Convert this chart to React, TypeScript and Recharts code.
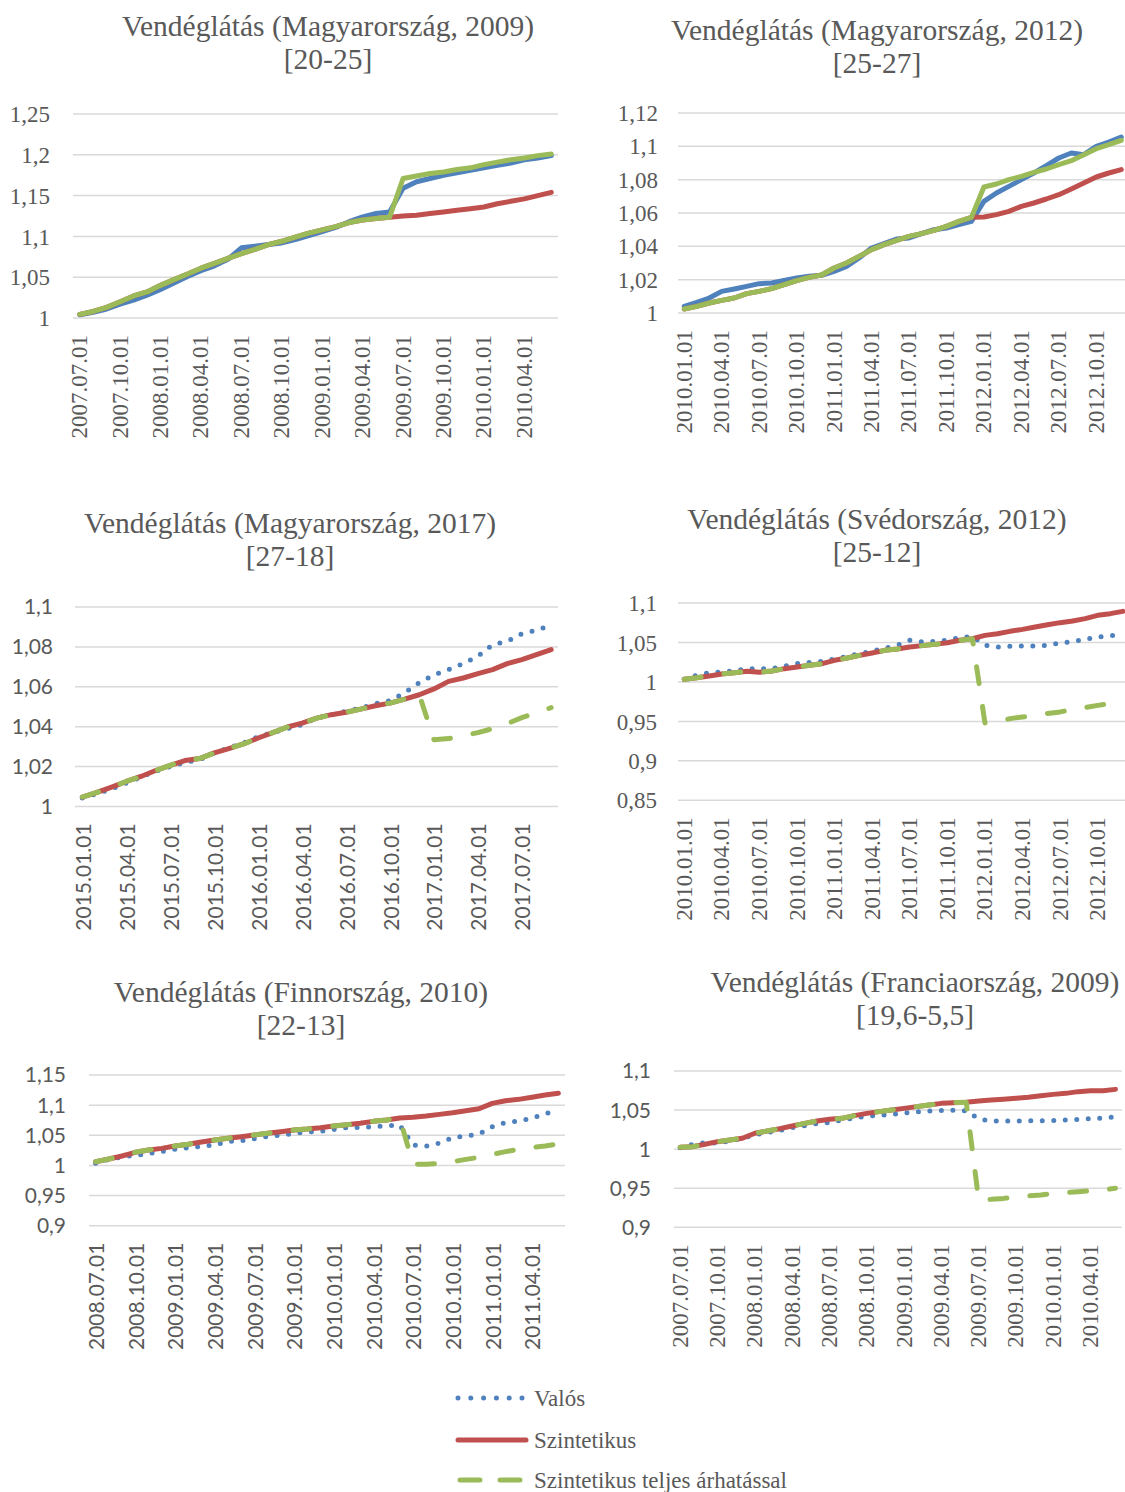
import { CartesianGrid, Line, LineChart, XAxis, YAxis } from "recharts";

const TEXT = "#595959";
const BLUE = "#4f81bd";
const RED = "#c0504d";
const GREEN = "#9bbb59";
const GRID = "#d9d9d9";
const SERIF = "'Liberation Serif', 'Times New Roman', serif";
const SANS = "Lato, Carlito, Calibri, sans-serif";

// months (tick labels)
const months0707 = [
  "2007.07.01", "2007.08.01", "2007.09.01", "2007.10.01", "2007.11.01", "2007.12.01",
  "2008.01.01", "2008.02.01", "2008.03.01", "2008.04.01", "2008.05.01", "2008.06.01",
  "2008.07.01", "2008.08.01", "2008.09.01", "2008.10.01", "2008.11.01", "2008.12.01",
  "2009.01.01", "2009.02.01", "2009.03.01", "2009.04.01", "2009.05.01", "2009.06.01",
  "2009.07.01", "2009.08.01", "2009.09.01", "2009.10.01", "2009.11.01", "2009.12.01",
  "2010.01.01", "2010.02.01", "2010.03.01", "2010.04.01", "2010.05.01", "2010.06.01",
];
const months1001 = [
  "2010.01.01", "2010.02.01", "2010.03.01", "2010.04.01", "2010.05.01", "2010.06.01",
  "2010.07.01", "2010.08.01", "2010.09.01", "2010.10.01", "2010.11.01", "2010.12.01",
  "2011.01.01", "2011.02.01", "2011.03.01", "2011.04.01", "2011.05.01", "2011.06.01",
  "2011.07.01", "2011.08.01", "2011.09.01", "2011.10.01", "2011.11.01", "2011.12.01",
  "2012.01.01", "2012.02.01", "2012.03.01", "2012.04.01", "2012.05.01", "2012.06.01",
  "2012.07.01", "2012.08.01", "2012.09.01", "2012.10.01", "2012.11.01", "2012.12.01",
];
const months1501 = [
  "2015.01.01", "2015.02.01", "2015.03.01", "2015.04.01", "2015.05.01", "2015.06.01",
  "2015.07.01", "2015.08.01", "2015.09.01", "2015.10.01", "2015.11.01", "2015.12.01",
  "2016.01.01", "2016.02.01", "2016.03.01", "2016.04.01", "2016.05.01", "2016.06.01",
  "2016.07.01", "2016.08.01", "2016.09.01", "2016.10.01", "2016.11.01", "2016.12.01",
  "2017.01.01", "2017.02.01", "2017.03.01", "2017.04.01", "2017.05.01", "2017.06.01",
  "2017.07.01", "2017.08.01", "2017.09.01",
];
const months0807 = [
  "2008.07.01", "2008.08.01", "2008.09.01", "2008.10.01", "2008.11.01", "2008.12.01",
  "2009.01.01", "2009.02.01", "2009.03.01", "2009.04.01", "2009.05.01", "2009.06.01",
  "2009.07.01", "2009.08.01", "2009.09.01", "2009.10.01", "2009.11.01", "2009.12.01",
  "2010.01.01", "2010.02.01", "2010.03.01", "2010.04.01", "2010.05.01", "2010.06.01",
  "2010.07.01", "2010.08.01", "2010.09.01", "2010.10.01", "2010.11.01", "2010.12.01",
  "2011.01.01", "2011.02.01", "2011.03.01", "2011.04.01", "2011.05.01", "2011.06.01",
];

// Magyarország 2009
const hu09Valos = [
  1.004, 1.007, 1.011, 1.017, 1.022, 1.028, 1.035, 1.043, 1.051, 1.058, 1.064, 1.072,
  1.086, 1.088, 1.09, 1.092, 1.096, 1.101, 1.106, 1.111, 1.118, 1.124, 1.128, 1.13,
  1.159, 1.167, 1.171, 1.175, 1.178, 1.181, 1.184, 1.187, 1.19, 1.194, 1.196, 1.199,
];
const hu09Szint = [
  1.0045, 1.008, 1.013, 1.02, 1.027, 1.032, 1.04, 1.047, 1.054, 1.061, 1.067, 1.073,
  1.079, 1.084, 1.09, 1.094, 1.099, 1.104, 1.108, 1.112, 1.117, 1.12, 1.122, 1.1235,
  1.125, 1.126, 1.128, 1.13, 1.132, 1.134, 1.136, 1.14, 1.143, 1.146, 1.15, 1.154,
];
const hu09Teljes = [
  1.0045, 1.008, 1.013, 1.02, 1.027, 1.032, 1.04, 1.047, 1.054, 1.061, 1.067, 1.073,
  1.079, 1.084, 1.09, 1.094, 1.099, 1.104, 1.108, 1.112, 1.117, 1.12, 1.122, 1.1235,
  1.171, 1.174, 1.177, 1.179, 1.182, 1.184, 1.188, 1.191, 1.194, 1.196, 1.199, 1.201,
];

// Magyarország 2012
const hu12Valos = [
  1.004, 1.0064, 1.009, 1.013, 1.0144, 1.016, 1.0176, 1.018, 1.0196, 1.021, 1.022, 1.0226,
  1.025, 1.028, 1.033, 1.039, 1.0416, 1.0444, 1.045, 1.0476, 1.05, 1.051, 1.053, 1.055,
  1.067, 1.072, 1.076, 1.08, 1.084, 1.0884, 1.093, 1.096, 1.095, 1.1, 1.1025, 1.1055,
];
const hu12Szint = [
  1.0024, 1.004, 1.006, 1.0076, 1.009, 1.0116, 1.013, 1.0146, 1.017, 1.0194, 1.0214, 1.0228,
  1.027, 1.03, 1.034, 1.038, 1.041, 1.0436, 1.046, 1.0476, 1.0496, 1.052, 1.055, 1.0574,
  1.0576, 1.059, 1.061, 1.064, 1.066, 1.0684, 1.071, 1.0744, 1.078, 1.0816, 1.084, 1.086,
];
const hu12Teljes = [
  1.0024, 1.004, 1.006, 1.0076, 1.009, 1.0116, 1.013, 1.0146, 1.017, 1.0194, 1.0214, 1.0228,
  1.027, 1.03, 1.034, 1.038, 1.041, 1.0436, 1.046, 1.0476, 1.0496, 1.052, 1.055, 1.0574,
  1.0756, 1.0774, 1.08, 1.082, 1.0844, 1.0864, 1.089, 1.0914, 1.095, 1.0986, 1.101, 1.1036,
];

// Magyarország 2017
const hu17Valos = [
  1.0042, 1.0064, 1.0087, 1.0117, 1.0147, 1.0176, 1.02, 1.022, 1.0234, 1.0268, 1.0293, 1.0318,
  1.035, 1.037, 1.039, 1.041, 1.0443, 1.046, 1.0477, 1.0493, 1.0515, 1.053, 1.057, 1.062,
  1.066, 1.0686, 1.0716, 1.0753, 1.081, 1.0828, 1.0866, 1.0883, 1.091,
];
const hu17Szint = [
  1.0047, 1.007, 1.0097, 1.0125, 1.015, 1.018, 1.0206, 1.023, 1.024, 1.0268, 1.029, 1.0313,
  1.0343, 1.037, 1.0398, 1.0418, 1.0443, 1.046, 1.0472, 1.0488, 1.0505, 1.0518, 1.0538, 1.056,
  1.0589, 1.0627, 1.0644, 1.0666, 1.0686, 1.0716, 1.0736, 1.0761, 1.0786,
];
const hu17Teljes = [
  1.0047, 1.007, 1.0097, 1.0125, 1.015, 1.018, 1.0206, 1.023, 1.024, 1.0268, 1.029, 1.0313,
  1.0343, 1.037, 1.0398, 1.0418, 1.0443, 1.046, 1.0472, 1.0488, 1.0505, 1.0518, 1.0538, 1.056,
  1.0334, 1.034, 1.0355, 1.037, 1.039, 1.0415, 1.0445, 1.047, 1.0495,
];

// Svédország 2012
const se12Valos = [
  1.0035, 1.0084, 1.0117, 1.0126, 1.0139, 1.0168, 1.0168, 1.0168, 1.02, 1.0231, 1.0248, 1.026,
  1.029, 1.0324, 1.0358, 1.0392, 1.0426, 1.0464, 1.0527, 1.0506, 1.0514, 1.0527, 1.0561, 1.0578,
  1.0464, 1.0443, 1.0451, 1.0455, 1.0455, 1.0464, 1.0493, 1.051, 1.054, 1.0569, 1.0586, 1.0595,
];
const se12Szint = [
  1.0033, 1.0054, 1.0075, 1.01, 1.0117, 1.0134, 1.0122, 1.0139, 1.0168, 1.0189, 1.021, 1.0231,
  1.0274, 1.0303, 1.0337, 1.0367, 1.04, 1.0417, 1.0443, 1.046, 1.0476, 1.0497, 1.0527, 1.0548,
  1.059, 1.0611, 1.0641, 1.0666, 1.0696, 1.0725, 1.0751, 1.0772, 1.0802, 1.0844, 1.0865, 1.0894,
];
const se12Teljes = [
  1.0033, 1.0054, 1.0075, 1.01, 1.0117, 1.0134, 1.0122, 1.0139, 1.0168, 1.0189, 1.021, 1.0231,
  1.0274, 1.0303, 1.0337, 1.0367, 1.04, 1.0417, 1.0443, 1.046, 1.0476, 1.0497, 1.0527, 1.0548,
  0.948, 0.9497, 0.9535, 0.9556, 0.9577, 0.96, 0.962, 0.965, 0.9674, 0.9703, 0.9725, 0.9746,
];

// Finnország 2010
const fi10Valos = [
  1.0034, 1.01, 1.0139, 1.0167, 1.0195, 1.0228, 1.0267, 1.0294, 1.0316, 1.0339, 1.04, 1.041,
  1.0444, 1.0482, 1.0499, 1.0532, 1.0554, 1.0565, 1.0593, 1.0626, 1.0632, 1.0643, 1.066, 1.067,
  1.034, 1.032, 1.037, 1.046, 1.049, 1.052, 1.064, 1.071, 1.074, 1.078, 1.086, 1.09,
];
const fi10Szint = [
  1.0062, 1.0106, 1.0156, 1.0217, 1.0256, 1.0283, 1.0322, 1.035, 1.0388, 1.0421, 1.0449, 1.0477,
  1.0504, 1.0532, 1.056, 1.0587, 1.0604, 1.0626, 1.0654, 1.0676, 1.0698, 1.0731, 1.0753, 1.0787,
  1.0798, 1.082, 1.0847, 1.0875, 1.0908, 1.0941, 1.103, 1.1074, 1.1096, 1.113, 1.1168, 1.1196,
];
const fi10Teljes = [
  1.0062, 1.0106, 1.0156, 1.0217, 1.0256, 1.0283, 1.0322, 1.035, 1.0388, 1.0421, 1.0449, 1.0477,
  1.0504, 1.0532, 1.056, 1.0587, 1.0604, 1.0626, 1.0654, 1.0676, 1.0698, 1.0731, 1.0753, 1.0787,
  1.0023, 1.0018, 1.0034, 1.0062, 1.01, 1.0134, 1.0184, 1.0228, 1.0267, 1.03, 1.0322, 1.0355,
];

// Franciaország 2009
const fr09Valos = [
  1.0019, 1.0062, 1.0083, 1.0079, 1.0104, 1.0139, 1.0185, 1.0211, 1.0241, 1.0275, 1.0301, 1.0326,
  1.0339, 1.0373, 1.0399, 1.042, 1.0433, 1.0446, 1.0463, 1.0475, 1.0488, 1.0493, 1.0497, 1.049,
  1.0386, 1.036, 1.036, 1.036, 1.0365, 1.0365, 1.0365, 1.0373, 1.0382, 1.039, 1.0399, 1.0412,
];
const fr09Szint = [
  1.0023, 1.0032, 1.0062, 1.0096, 1.0117, 1.0139, 1.0203, 1.0232, 1.0262, 1.0296, 1.033, 1.036,
  1.0382, 1.0394, 1.0429, 1.0458, 1.048, 1.0501, 1.0522, 1.0544, 1.0565, 1.0586, 1.0595, 1.0599,
  1.0616, 1.0629, 1.0638, 1.065, 1.0663, 1.0684, 1.0701, 1.0714, 1.0736, 1.0748, 1.0748, 1.0765,
];
const fr09Teljes = [
  1.0023, 1.0032, 1.0062, 1.0096, 1.0117, 1.0139, 1.0203, 1.0232, 1.0262, 1.0296, 1.033, 1.036,
  1.0382, 1.0394, 1.0429, 1.0458, 1.048, 1.0501, 1.0522, 1.0544, 1.0565, 1.0586, 1.0595, 1.0599,
  0.935, 0.9358, 0.937, 0.9392, 0.9401, 0.9414, 0.9435, 0.9443, 0.9456, 0.9469, 0.9478, 0.9499,
];

const ticksA = [1, 1.05, 1.1, 1.15, 1.2, 1.25];
const ticksB = [1, 1.02, 1.04, 1.06, 1.08, 1.1, 1.12];
const ticksC = [1, 1.02, 1.04, 1.06, 1.08, 1.1];
const ticksD = [0.85, 0.9, 0.95, 1, 1.05, 1.1];
const ticksE = [0.9, 0.95, 1, 1.05, 1.1, 1.15];
const ticksF = [0.9, 0.95, 1, 1.05, 1.1];

type PanelDef = {
  title: string;
  sub: string;
  tx: number;
  ty: number;
  x0: number;
  x1: number;
  y0: number;
  y1: number;
  ticks: number[];
  dates: string[];
  valos: number[];
  szint: number[];
  teljes: number[];
  styled: boolean;
  xFont: string;
  yFont: string;
  yGap: number;
};

const panels: PanelDef[] = [
  { title: "Vendéglátás (Magyarország, 2009)", sub: "[20-25]", tx: 328, ty: 27, x0: 73, x1: 558, y0: 114.3, y1: 318.3, ticks: ticksA, dates: months0707, valos: hu09Valos, szint: hu09Szint, teljes: hu09Teljes, styled: false, xFont: SERIF, yFont: SERIF, yGap: 23 },
  { title: "Vendéglátás (Magyarország, 2012)", sub: "[25-27]", tx: 877, ty: 31, x0: 677.5, x1: 1127, y0: 113.3, y1: 313.3, ticks: ticksB, dates: months1001, valos: hu12Valos, szint: hu12Szint, teljes: hu12Teljes, styled: false, xFont: SERIF, yFont: SERIF, yGap: 20 },
  { title: "Vendéglátás (Magyarország, 2017)", sub: "[27-18]", tx: 290, ty: 524, x0: 74.5, x1: 558, y0: 607.3, y1: 806.7, ticks: ticksC, dates: months1501, valos: hu17Valos, szint: hu17Szint, teljes: hu17Teljes, styled: true, xFont: SANS, yFont: SANS, yGap: 22 },
  { title: "Vendéglátás (Svédország, 2012)", sub: "[25-12]", tx: 877, ty: 520, x0: 677.5, x1: 1128.5, y0: 602.7, y1: 800, ticks: ticksD, dates: months1001, valos: se12Valos, szint: se12Szint, teljes: se12Teljes, styled: true, xFont: SERIF, yFont: SERIF, yGap: 21 },
  { title: "Vendéglátás (Finnország, 2010)", sub: "[22-13]", tx: 301, ty: 993, x0: 89, x1: 565, y0: 1075, y1: 1225.7, ticks: ticksE, dates: months0807, valos: fi10Valos, szint: fi10Szint, teljes: fi10Teljes, styled: true, xFont: SANS, yFont: SANS, yGap: 23 },
  { title: "Vendéglátás (Franciaország, 2009)", sub: "[19,6-5,5]", tx: 915, ty: 983, x0: 674.3, x1: 1122, y0: 1071, y1: 1227.3, ticks: ticksF, dates: months0707, valos: fr09Valos, szint: fr09Szint, teljes: fr09Teljes, styled: true, xFont: SERIF, yFont: SANS, yGap: 23 },
];

const fmt = (v: number) => String(v).replace(".", ",");

function makeXTick(font: string) {
  const size = font === SANS ? 21 : 23;
  return (props: any) => {
    const { x, y, payload } = props;
    return (
      <text
        x={x}
        y={y}
        transform={`rotate(-90 ${x} ${y})`}
        textAnchor="end"
        dominantBaseline="central"
        fill={TEXT}
        fontSize={size}
        fontFamily={font}
      >
        {payload.value}
      </text>
    );
  };
}

function Panel({ p }: { p: PanelDef }) {
  const yW = 80;
  const top = 24;
  const xH = 130;
  const w = p.x1 - p.x0;
  const h = p.y1 - p.y0;
  const half = w / p.dates.length / 2;
  const rows = p.dates.map((d, i) => ({ date: d, valos: p.valos[i], szint: p.szint[i], teljes: p.teljes[i] }));
  const titleStyle = {
    position: "absolute" as const,
    left: p.tx,
    transform: "translate(-50%, -50%)",
    whiteSpace: "nowrap" as const,
    fontFamily: SERIF,
    fontSize: 29.5,
    lineHeight: 1,
    color: TEXT,
  };
  return (
    <>
      <div style={{ ...titleStyle, top: p.ty }}>{p.title}</div>
      <div style={{ ...titleStyle, top: p.ty + 33 }}>{p.sub}</div>
      <div style={{ position: "absolute", left: p.x0 - yW, top: p.y0 - top }}>
        <LineChart width={yW + w} height={top + h + xH} data={rows} margin={{ top, right: 0, bottom: 0, left: 0 }}>
          <CartesianGrid vertical={false} stroke={GRID} strokeWidth={1.5} />
          <XAxis
            dataKey="date"
            interval={2}
            axisLine={false}
            tickLine={false}
            tickSize={0}
            tickMargin={17}
            height={xH}
            padding={{ left: half, right: half }}
            tick={makeXTick(p.xFont)}
          />
          <YAxis
            domain={[p.ticks[0], p.ticks[p.ticks.length - 1]]}
            ticks={p.ticks}
            interval={0}
            width={yW}
            axisLine={false}
            tickLine={false}
            tickSize={0}
            tickMargin={p.yGap}
            tickFormatter={fmt}
            tick={{ fill: TEXT, fontSize: p.yFont === SANS ? 21 : 23, fontFamily: p.yFont }}
          />
          <Line
            type="linear"
            dataKey="valos"
            stroke={BLUE}
            strokeWidth={5}
            strokeDasharray={p.styled ? "0 11.5" : undefined}
            strokeLinecap="round"
            strokeLinejoin="round"
            dot={false}
            activeDot={false}
            isAnimationActive={false}
          />
          <Line
            type="linear"
            dataKey="szint"
            stroke={RED}
            strokeWidth={5}
            strokeLinecap="round"
            strokeLinejoin="round"
            dot={false}
            activeDot={false}
            isAnimationActive={false}
          />
          <Line
            type="linear"
            dataKey="teljes"
            stroke={GREEN}
            strokeWidth={5}
            strokeDasharray={p.styled ? "17 23" : undefined}
            strokeLinecap="round"
            strokeLinejoin="round"
            dot={false}
            activeDot={false}
            isAnimationActive={false}
          />
        </LineChart>
      </div>
    </>
  );
}

const legendItems = [
  { label: "Valós", color: BLUE, dash: "0 12.8", width: 5, y: 1398, x1: 458, x2: 522 },
  { label: "Szintetikus", color: RED, dash: undefined, width: 5, y: 1440, x1: 458, x2: 526 },
  { label: "Szintetikus teljes árhatással", color: GREEN, dash: "20 20", width: 5, y: 1480, x1: 460, x2: 522 },
];

function LegendBox() {
  return (
    <svg width={1125} height={140} style={{ position: "absolute", left: 0, top: 1360 }}>
      {legendItems.map((it) => (
        <g key={it.label}>
          <line
            x1={it.x1}
            x2={it.x2}
            y1={it.y - 1360}
            y2={it.y - 1360}
            stroke={it.color}
            strokeWidth={it.width}
            strokeDasharray={it.dash}
            strokeLinecap="round"
          />
          <text x={534} y={it.y - 1360} dominantBaseline="central" fill={TEXT} fontSize={23} fontFamily={SERIF}>
            {it.label}
          </text>
        </g>
      ))}
    </svg>
  );
}

export default function App() {
  return (
    <div style={{ position: "fixed", left: 0, top: 0, width: 1125, height: 1492, overflow: "hidden", background: "#fff" }}>
      {panels.map((p) => (
        <Panel key={p.title} p={p} />
      ))}
      <LegendBox />
    </div>
  );
}
